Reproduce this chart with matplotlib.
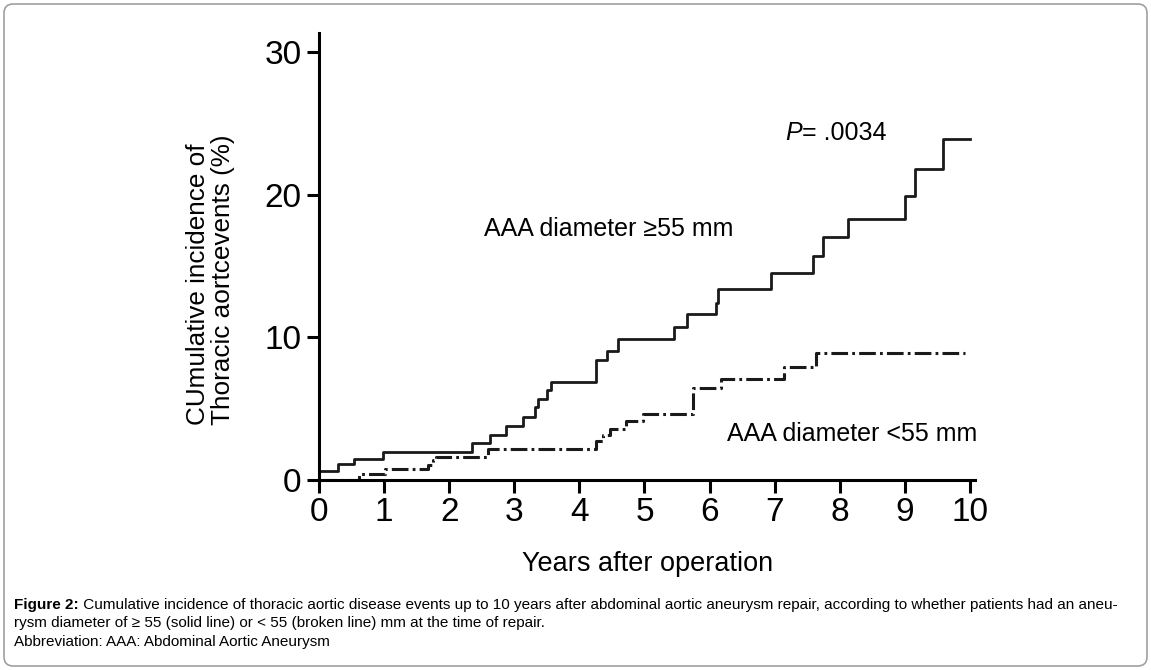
import matplotlib
matplotlib.use('Agg')
import matplotlib.pyplot as plt
from matplotlib.patches import FancyBboxPatch

plt.rcParams['font.family'] = ['Liberation Sans', 'DejaVu Sans']
plt.rcParams['lines.scale_dashes'] = False

# years after operation / cumulative incidence (%)
solid_years = [0, 0.29, 0.53, 0.99, 2.35, 2.63, 2.87, 3.14, 3.32, 3.37, 3.50, 3.56,
               4.25, 4.43, 4.59, 5.46, 5.66, 6.10, 6.13, 6.94, 7.59, 7.75, 8.13,
               9.00, 9.15, 9.58, 10.0]
solid_pct = [0.65, 1.1, 1.45, 1.98, 2.57, 3.15, 3.8, 4.4, 5.1, 5.7, 6.3, 6.9,
             8.4, 9.05, 9.85, 10.75, 11.6, 12.4, 13.35, 14.5, 15.7, 17.0, 18.3,
             19.9, 21.8, 23.9, 23.9]

broken_years = [0, 0.62, 1.01, 1.68, 1.75, 1.80, 2.59, 4.25, 4.36, 4.47, 4.72,
                4.98, 5.75, 6.17, 7.14, 7.63, 9.92]
broken_pct = [0, 0.45, 0.77, 1.05, 1.4, 1.63, 2.15, 2.7, 3.15, 3.6, 4.1,
              4.6, 6.45, 7.05, 7.95, 8.88, 8.88]

x_ticks = [0, 1, 2, 3, 4, 5, 6, 7, 8, 9, 10]
y_ticks = [0, 10, 20, 30]

fig = plt.figure(figsize=(11.51, 6.70), dpi=100)
ax = fig.add_axes([0.2772, 0.2836, 0.570, 0.6667])

ax.step(solid_years, solid_pct, where='post', color='#1a1a1a', lw=2.0)
ax.step(broken_years, broken_pct, where='post', color='#1a1a1a', lw=2.2,
        linestyle=(0, (12, 3, 2, 3)))

ax.set_xlim(0, 10.08)
ax.set_ylim(0, 31.3)
ax.set_xticks(x_ticks)
ax.set_yticks(y_ticks)
for s in ['top', 'right']:
    ax.spines[s].set_visible(False)
for s in ['left', 'bottom']:
    ax.spines[s].set_linewidth(2.2)
    ax.spines[s].set_color('black')
ax.tick_params(axis='both', width=2.2, length=9, labelsize=24, color='black')
ax.tick_params(axis='y', pad=3.5)
ax.tick_params(axis='x', pad=3)
ax.set_facecolor('none')

ax.set_xlabel('Years after operation', fontsize=19.5, labelpad=17)
fig.text(0.1825, 0.366, 'CUmulative incidence of\nThoracic aortcevents (%)',
         rotation=90, fontsize=18.8, ha='center', va='bottom',
         multialignment='left', linespacing=1.05)

ax.text(2.53, 17.6, 'AAA diameter \u226555 mm', fontsize=18, va='center')
ax.text(6.27, 3.22, 'AAA diameter <55 mm', fontsize=18, va='center')
p = ax.text(7.16, 24.3, 'P', fontsize=18, style='italic', va='center')
ax.annotate('= .0034', xy=(1, 0.5), xycoords=p, fontsize=18, va='center')

# caption
c1 = fig.text(14 / 1151, 1 - 605 / 670, 'Figure 2:', fontsize=11,
              fontweight='bold', va='center')
ax.annotate(' Cumulative incidence of thoracic aortic disease events up to 10 years after '
            'abdominal aortic aneurysm repair, according to whether patients had an aneu-',
            xy=(1, 0.5), xycoords=c1, fontsize=11, va='center', annotation_clip=False)
fig.text(14 / 1151, 1 - 623 / 670,
         'rysm diameter of \u2265 55 (solid line) or < 55 (broken line) mm at the time of repair.',
         fontsize=11, va='center')
fig.text(14 / 1151, 1 - 642 / 670, 'Abbreviation: AAA: Abdominal Aortic Aneurysm',
         fontsize=11, va='center')

border = FancyBboxPatch((4 / 1151, 4 / 670), 1143 / 1151, 662 / 670,
                        boxstyle='round,pad=0,rounding_size=0.008',
                        mutation_aspect=1151 / 670, transform=fig.transFigure,
                        facecolor='none', edgecolor='#a0a0a0', lw=1.2)
fig.patches.append(border)

fig.savefig('out.png', dpi=100)
